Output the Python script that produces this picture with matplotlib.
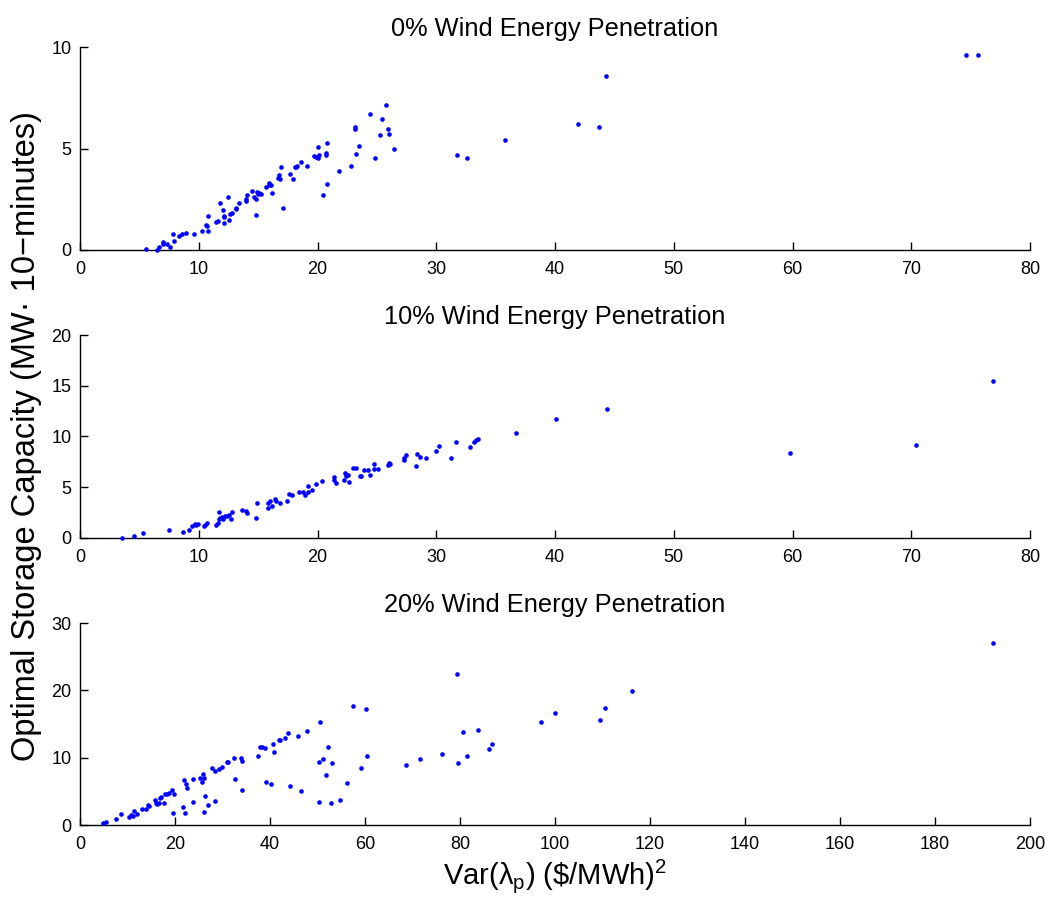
import matplotlib
matplotlib.use("Agg")
import matplotlib.pyplot as plt

plt.rcParams['font.family'] = ['Liberation Sans', 'DejaVu Sans']
plt.rcParams['mathtext.fontset'] = 'custom'
plt.rcParams['mathtext.rm'] = 'Liberation Sans'
plt.rcParams['mathtext.it'] = 'Liberation Sans'
plt.rcParams['mathtext.bf'] = 'Liberation Sans:bold'

titles = ["0% Wind Energy Penetration",
          "10% Wind Energy Penetration",
          "20% Wind Energy Penetration"]

# Panel 1: 0% wind
x0 = [5.57, 6.52, 6.63, 7.0, 7.02, 7.3, 7.58, 7.92, 7.81, 8.34, 8.62, 8.96, 9.63,
      10.24, 10.58, 10.75, 10.69, 10.78, 11.47, 11.59, 11.75, 12.03, 12.12, 12.12,
      12.09, 12.48, 12.57, 12.62, 12.82, 13.13, 13.15, 13.43, 13.94, 13.94, 14.05,
      14.47, 14.67, 14.78, 14.81, 14.89, 15.0, 15.11, 15.25, 15.67, 15.9, 15.92,
      16.12, 16.18, 16.65, 16.79, 16.88, 16.96, 17.13, 17.69, 17.91, 18.11, 18.19,
      18.3, 18.61, 19.09, 19.73, 19.9, 20.04, 20.07, 20.12, 20.43, 20.68, 20.71,
      20.77, 20.82, 21.77, 22.84, 23.12, 23.12, 23.23, 23.48, 24.46, 24.85, 25.27,
      25.44, 25.75, 25.92, 26.06, 26.42,
      31.74, 32.58, 35.77, 41.95, 43.69, 44.3, 74.6, 75.6]
y0 = [0.03, 0.0, 0.13, 0.30, 0.41, 0.30, 0.13, 0.43, 0.80, 0.69, 0.80, 0.85, 0.80,
      0.92, 1.21, 0.92, 1.16, 1.66, 1.36, 1.44, 2.30, 1.97, 1.61, 1.69,
      1.34, 2.59, 1.48, 1.79, 1.82, 2.03, 2.08, 2.33, 2.49, 2.43, 2.70,
      2.89, 2.59, 1.74, 2.49, 2.87, 2.75, 2.80, 2.77, 3.10, 3.31, 3.18,
      3.21, 2.82, 3.57, 3.70, 3.52, 4.07, 2.08, 3.74, 3.48, 4.11, 4.10,
      4.16, 4.34, 4.16, 4.64, 4.59, 5.07, 4.54, 4.70, 2.72, 4.70, 4.77,
      5.25, 3.25, 3.90, 4.16, 6.08, 5.98, 4.75, 5.10, 6.70, 4.51, 5.67,
      6.44, 7.16, 5.98, 5.70, 5.00,
      4.66, 4.51, 5.43, 6.20, 6.08, 8.58, 9.60, 9.60]

# Panel 2: 10% wind
x1 = [3.54, 4.58, 5.28, 7.47, 8.71, 9.21, 9.41, 9.66, 9.8, 9.94, 10.42, 10.53, 10.67,
      11.43, 11.63, 11.69, 11.71, 11.83, 11.94, 12.05, 12.22, 12.39, 12.58, 12.72,
      12.84, 13.65, 13.99, 14.07, 14.78, 14.92, 15.81, 15.87, 16.04, 16.18, 16.43,
      16.54, 16.8, 17.42, 17.64, 17.89, 18.43, 18.76, 18.93, 19.19, 19.24, 19.52,
      19.86, 20.34, 21.43, 21.43, 21.57, 22.25, 22.33, 22.44, 22.53, 22.64, 22.98,
      23.23, 23.54, 23.65, 23.88, 24.27, 24.38, 24.75, 24.78, 25.11, 25.9, 25.98,
      26.12, 27.25, 27.28, 27.47, 28.26, 28.37, 28.6, 29.1, 30.0, 30.22, 31.26,
      31.66, 32.84, 33.17, 33.31, 33.54,
      36.7, 40.06, 44.41, 59.83, 70.37, 76.91]
y1 = [0.0, 0.2, 0.46, 0.72, 0.59, 0.79, 1.18, 1.38, 1.25, 1.31, 1.11, 1.21, 1.48,
      1.25, 1.41, 1.80, 2.49, 1.97, 2.03, 1.80, 2.10, 2.16, 2.26, 1.84,
      2.49, 2.75, 2.59, 2.46, 1.97, 3.44, 3.44, 2.92, 3.64, 3.08, 3.84,
      3.64, 3.41, 3.67, 4.30, 4.20, 4.46, 4.49, 4.20, 5.08, 4.52, 4.75,
      5.25, 5.61, 5.97, 5.70, 5.38, 5.74, 6.39, 6.10, 6.16, 5.54, 6.85,
      6.85, 6.10, 6.10, 6.66, 6.66, 6.16, 6.79, 7.25, 6.79, 7.21, 7.34,
      7.28, 7.64, 7.84, 8.16, 7.11, 8.26, 7.93, 7.90, 8.56, 9.05, 7.87,
      9.44, 8.92, 9.48, 9.64, 9.74,
      10.33, 11.67, 12.69, 8.33, 9.11, 15.44]

# Panel 3: 20% wind
x2 = [4.77, 5.4, 7.65, 8.56, 10.39, 10.74, 11.09, 11.44, 12.07, 13.05, 13.96, 14.39,
      14.46, 15.72, 16.07, 16.21, 16.63, 16.84, 17.05, 17.68, 17.82, 18.39, 18.81,
      19.3, 19.58, 19.86, 21.68, 21.82, 22.18, 22.32, 22.46, 23.79, 23.86, 25.19,
      25.68, 25.89, 26.1, 26.1, 26.25, 27.02, 27.86, 28.35, 28.49, 29.19, 29.82,
      30.88, 31.23, 32.49, 32.56, 33.96, 34.04, 34.1, 37.54, 37.96, 38.32, 39.02,
      39.09, 40.14, 40.56, 40.84, 41.96, 42.18, 43.09, 43.79, 44.21, 45.96, 46.46,
      47.72, 50.25, 50.25, 50.46, 51.09, 51.79, 52.21, 52.77, 53.12, 54.74, 56.28,
      57.4, 59.23, 60.28, 60.49,
      68.56, 71.58, 76.21, 79.4, 79.58, 80.63, 81.47, 83.86, 86.11, 86.74,
      97.12, 99.93, 109.54, 110.53, 116.2, 192.3]
y2 = [0.35, 0.45, 0.94, 1.58, 1.14, 1.49, 1.34, 2.03, 1.68, 2.38, 2.38, 2.92,
      2.77, 3.66, 3.27, 3.12, 3.32, 3.96, 4.21, 3.22, 4.60, 4.60, 4.80,
      5.20, 1.73, 4.65, 2.67, 6.63, 1.73, 6.04, 5.54, 6.83, 3.47, 7.03,
      6.34, 7.57, 1.98, 6.98, 4.36, 3.02, 8.42, 3.56, 8.07, 8.37, 8.56,
      9.41, 9.31, 9.90, 6.83, 9.90, 5.25, 9.55, 10.25, 11.63, 11.63, 11.49,
      6.44, 6.04, 11.98, 10.79, 12.57, 12.57, 12.92, 13.71, 5.79, 13.22, 5.10,
      13.96, 3.42, 9.31, 15.30, 9.75, 7.43, 11.53, 3.27, 9.21, 3.71, 6.29,
      17.67, 8.51, 17.23, 10.25,
      8.91, 9.75, 10.59, 22.4, 9.21, 13.86, 10.30, 14.06, 11.24, 11.98,
      15.25, 16.58, 15.64, 17.33, 19.90, 27.09]

xlims = [(0, 80), (0, 80), (0, 200)]
xticks = [list(range(0, 81, 10)), list(range(0, 81, 10)), list(range(0, 201, 20))]
ylims = [(0, 10), (0, 20), (0, 30)]
yticks = [[0, 5, 10], [0, 5, 10, 15, 20], [0, 10, 20, 30]]

W, H = 1052, 911
fig = plt.figure(figsize=(W / 100, H / 100), dpi=100)

left = 80 / W
width = (1030 - 80) / W
panels_px = [(47, 250), (335, 537.7), (623, 825)]
data = [(x0, y0), (x1, y1), (x2, y2)]

for i, ((top, bot), (xs, ys)) in enumerate(zip(panels_px, data)):
    ax = fig.add_axes([left, 1 - bot / H, width, (bot - top) / H])
    ax.scatter(xs, ys, s=11, c='#0000ff', linewidths=0, clip_on=False, zorder=3)
    ax.set_xlim(*xlims[i])
    ax.set_ylim(*ylims[i])
    ax.set_xticks(xticks[i])
    ax.set_yticks(yticks[i])
    ax.spines['top'].set_visible(False)
    ax.spines['right'].set_visible(False)
    for s in ('left', 'bottom'):
        ax.spines[s].set_linewidth(1.0)
        ax.spines[s].set_color('black')
    ax.tick_params(axis='x', direction='in', length=6, width=1.0, labelsize=13,
                   top=False, pad=8)
    ax.tick_params(axis='y', direction='in', length=6, width=1.0, labelsize=13,
                   right=False, pad=6)
    ax.set_title(titles[i], fontsize=18.3, pad=8)

fig.text(27 / W, 1 - 436 / H, "Optimal Storage Capacity (MW\u00b7 10\u2212minutes)",
         rotation=90, ha='center', va='center', fontsize=23.5)
fig.text(555 / W, 1 - 876 / H,
         r"Var($\mathrm{\lambda}_{\mathrm{p}}$) (\$/MWh)$^{\mathrm{2}}$",
         ha='center', va='center', fontsize=21)

fig.savefig("out.png", dpi=100)
